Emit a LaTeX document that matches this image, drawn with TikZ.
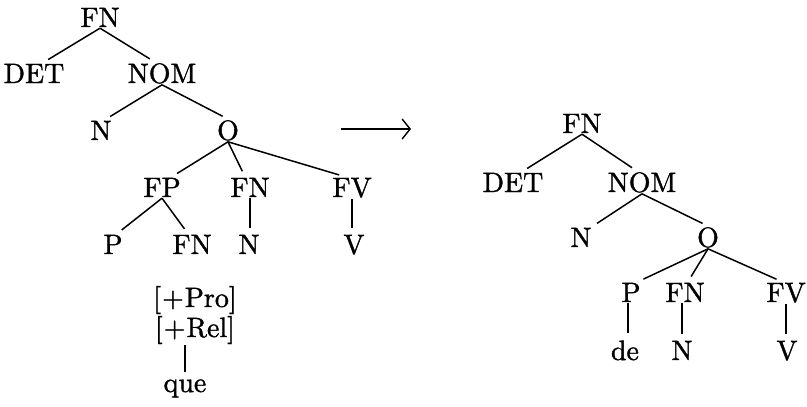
\documentclass[tikz,border=0pt]{standalone}
\usepackage{fontspec}
\newfontfamily\treefont{lmroman10-regular.otf}[FakeBold=1.2]
\usetikzlibrary{arrows.meta}
\begin{document}
\begin{tikzpicture}[x=1pt,y=-1pt,
  lab/.style={font=\treefont\fontsize{28}{32}\selectfont, inner sep=1pt, anchor=base},
  br/.style={line width=1.5pt, shorten >=6pt},
  arr/.style={line width=1.4pt, -{Straight Barb[length=8pt,width=20pt]}}]
\useasboundingbox (0,0) rectangle (807,407);
% left tree
\node[lab] (fn) at (100,27) {FN};
\node[lab] (det) at (34,83) {DET};
\node[lab] (nom) at (162,83) {NOM};
\node[lab] (n1) at (101,140) {N};
\node[lab] (o) at (228,140) {O};
\node[lab] (fp) at (162,197) {FP};
\node[lab] (fn2) at (250,197) {FN};
\node[lab] (fv) at (352,197) {FV};
\node[lab] (p) at (113,254) {P};
\node[lab] (fn3) at (192,254) {FN};
\node[lab] (n2) at (249,254) {N};
\node[lab] (v) at (354,254) {V};
\node[lab] (pro) at (195,307) {[\kern1pt+\kern1pt Pro]};
\node[lab] (rel) at (195,337) {[\kern1pt+\kern1pt Rel]};
\node[lab] (que) at (185,392) {que};
\draw[br] (fn.south) -- ([xshift=9pt]det.north);
\draw[br] (fn.south) -- ([xshift=-7pt]nom.north);
\draw[br] (nom.south) -- ([xshift=4pt]n1.north);
\draw[br] (nom.south) -- (o.north);
\draw[br] (o.south) -- ([xshift=10pt]fp.north);
\draw[br] (o.south) -- ([xshift=-5pt]fn2.north);
\draw[br] (o.south) -- ([xshift=-7pt]fv.north);
\draw[br] (fp.south) -- ([xshift=4pt]p.north);
\draw[br] (fp.south) -- ([xshift=-4pt]fn3.north);
\draw[br] (fn2.south) -- (fn2.south |- n2.north);
\draw[br] (fv.south) -- (fv.south |- v.north);
\draw[br] (que.north |- rel.south) -- (que.north);
% arrow
\coordinate (a1) at (341,129);
\coordinate (a2) at (411,129);
\draw[arr] (a1) -- (a2);
% right tree
\node[lab] (rfn) at (582,133) {FN};
\node[lab] (rdet) at (513,192) {DET};
\node[lab] (rnom) at (642,192) {NOM};
\node[lab] (rn1) at (581,247) {N};
\node[lab] (ro) at (708,247) {O};
\node[lab] (rp) at (631,302) {P};
\node[lab] (rfn2) at (685,302) {FN};
\node[lab] (rfv) at (786,302) {FV};
\node[lab] (rde) at (625,360) {de};
\node[lab] (rn2) at (682,360) {N};
\node[lab] (rv) at (787,360) {V};
\draw[br] (rfn.south) -- ([xshift=9pt]rdet.north);
\draw[br] (rfn.south) -- ([xshift=-5pt]rnom.north);
\draw[br] (rnom.south) -- ([xshift=11pt]rn1.north);
\draw[br] (rnom.south) -- (ro.north);
\draw[br] (ro.south) -- ([xshift=7pt]rp.north);
\draw[br] (ro.south) -- ([xshift=3pt]rfn2.north);
\draw[br] (ro.south) -- ([xshift=-4pt]rfv.north);
\draw[br] ([xshift=-3pt]rp.south) -- ([xshift=-3pt]rp.south |- rde.north);
\draw[br] ([xshift=-3pt]rfn2.south) -- ([xshift=-3pt]rfn2.south |- rn2.north);
\draw[br] (rfv.south) -- (rfv.south |- rv.north);
\end{tikzpicture}
\end{document}
